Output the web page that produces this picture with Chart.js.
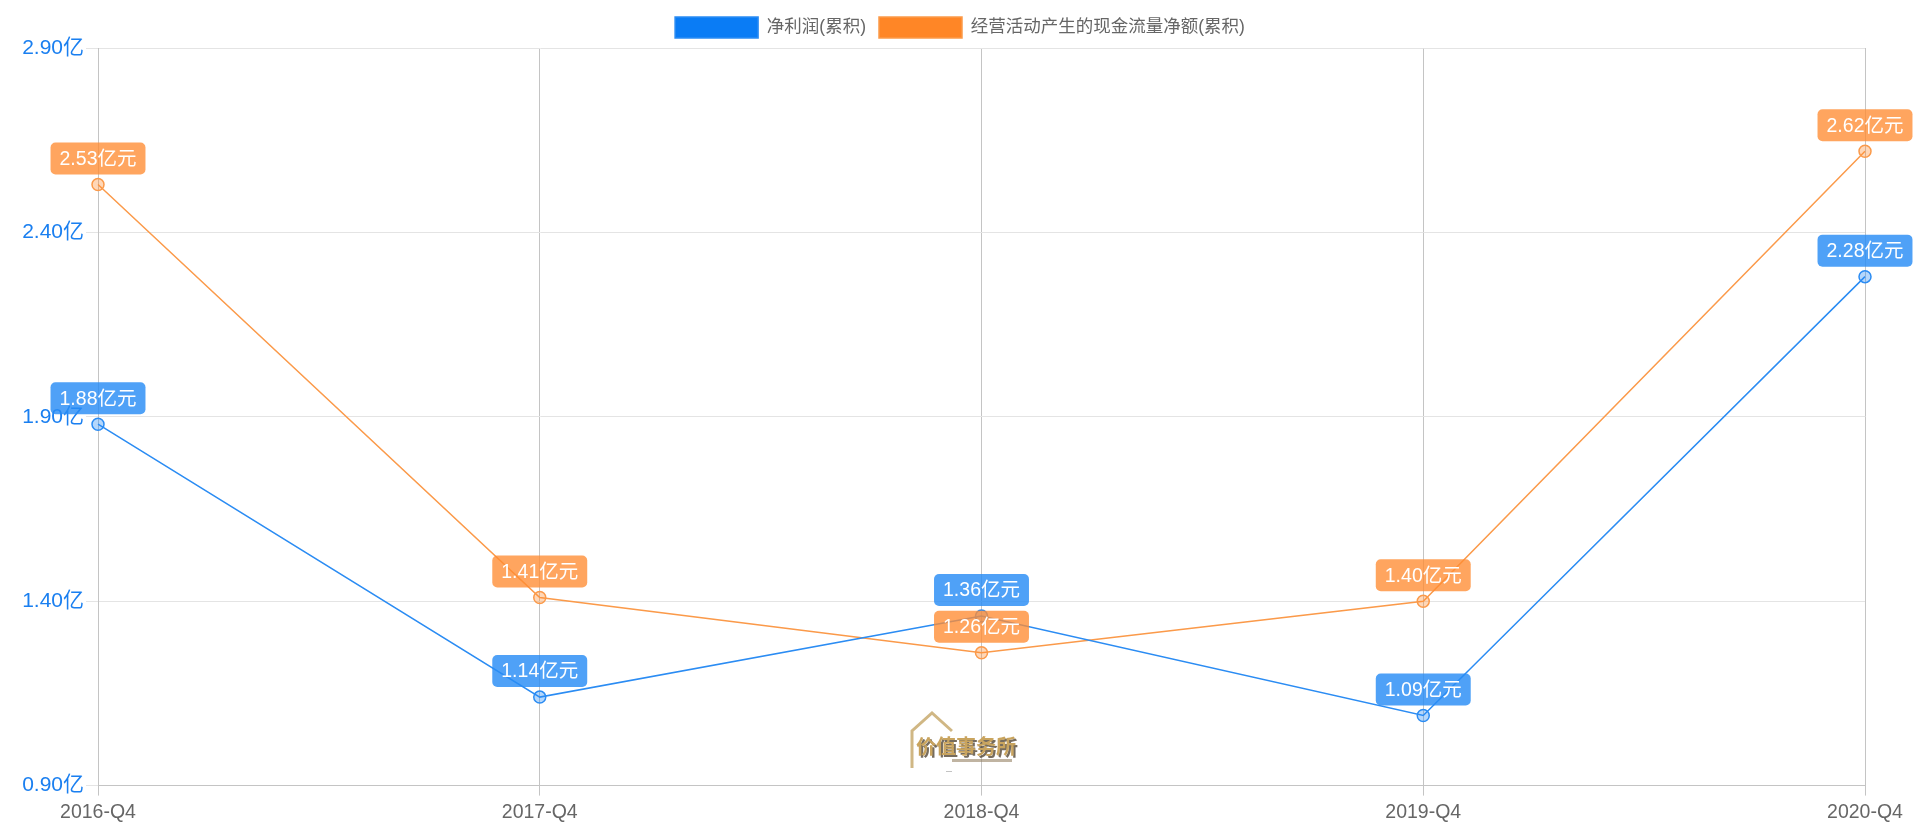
<!DOCTYPE html>
<html>
<head>
<meta charset="utf-8">
<script src="https://cdn.jsdelivr.net/npm/chart.js@4.4.0/dist/chart.umd.min.js"></script>
<style>
  html, body { margin: 0; padding: 0; background: #fff; }
  #wrap { width: 1920px; height: 836px; }
</style>
</head>
<body>
<div id="wrap"><canvas id="chart"></canvas></div>
<script>
const quarters = ['2016-Q4', '2017-Q4', '2018-Q4', '2019-Q4', '2020-Q4'];
const netProfit = [1.88, 1.14, 1.36, 1.09, 2.28];
const operatingCash = [2.53, 1.41, 1.26, 1.40, 2.62];
const yTicks = [0.9, 1.4, 1.9, 2.4, 2.9];

const FONT = '"Liberation Sans", Arial, "Noto Sans CJK SC", sans-serif';

// labels above every point, like chartjs-datalabels
const valueLabels = {
    id: 'valueLabels',
    afterDatasetsDraw(chart) {
        const ctx = chart.ctx;
        const fills = ['rgba(40,140,245,0.82)', 'rgba(255,140,50,0.78)'];
        ctx.save();
        ctx.font = '19.5px ' + FONT;
        ctx.textAlign = 'center';
        ctx.textBaseline = 'middle';
        chart.data.datasets.forEach((ds, i) => {
            const meta = chart.getDatasetMeta(i);
            meta.data.forEach((pt, j) => {
                const text = ds.data[j].toFixed(2) + '亿元';
                const w = ctx.measureText(text).width + 18;
                const h = 32;
                let x = pt.x - w / 2;
                if (x + w > chart.width - 2) x = chart.width - 2 - w;
                const y = pt.y - 10 - h;
                ctx.fillStyle = fills[i];
                ctx.beginPath();
                ctx.roundRect(x, y, w, h, 5);
                ctx.fill();
                ctx.fillStyle = '#fff';
                ctx.fillText(text, x + w / 2, y + h / 2 + 1);
            });
        });
        ctx.restore();
    }
};

// small logo watermark near the bottom middle
const watermark = {
    id: 'watermark',
    afterDraw(chart) {
        const ctx = chart.ctx;
        ctx.save();
        ctx.strokeStyle = 'rgba(200,170,110,0.85)';
        ctx.lineWidth = 3;
        ctx.beginPath();
        ctx.moveTo(912, 768);
        ctx.lineTo(912, 731);
        ctx.lineTo(932, 713);
        ctx.lineTo(952, 731);
        ctx.stroke();
        ctx.font = 'bold 20px "Noto Sans CJK SC", sans-serif';
        ctx.textBaseline = 'middle';
        ctx.fillStyle = 'rgba(60,45,25,0.7)';
        ctx.fillText('价值事务所', 918, 748);
        ctx.fillStyle = '#c9a45e';
        ctx.fillText('价值事务所', 916, 746);
        ctx.fillStyle = 'rgba(150,130,100,0.6)';
        ctx.fillRect(952, 759, 60, 3);
        ctx.fillStyle = 'rgba(180,180,180,0.8)';
        ctx.fillRect(946, 771, 6, 1);
        ctx.restore();
    }
};

new Chart(document.getElementById('chart'), {
    type: 'line',
    data: {
        labels: quarters,
        datasets: [{
            label: '净利润(累积)',
            data: netProfit,
            borderColor: '#2b8cf3',
            backgroundColor: '#0a7cf5',
            pointBackgroundColor: 'rgba(40,140,245,0.35)',
            pointBorderColor: '#2b8cf3',
            pointRadius: 6,
            pointBorderWidth: 1.5,
            borderWidth: 1.5,
            tension: 0
        }, {
            label: '经营活动产生的现金流量净额(累积)',
            data: operatingCash,
            borderColor: '#fb9a4a',
            backgroundColor: '#ff8626',
            pointBackgroundColor: 'rgba(255,140,50,0.35)',
            pointBorderColor: '#fb9a4a',
            pointRadius: 6,
            pointBorderWidth: 1.5,
            borderWidth: 1.5,
            tension: 0
        }]
    },
    options: {
        responsive: true,
        maintainAspectRatio: false,
        animation: false,
        layout: { padding: { left: 0, right: 0, top: 4, bottom: 7 } },
        plugins: {
            legend: {
                labels: {
                    boxWidth: 83,
                    boxHeight: 21,
                    padding: 13,
                    color: '#666',
                    font: { size: 17.5, family: FONT }
                }
            },
            tooltip: { enabled: false }
        },
        scales: {
            x: {
                grid: { color: '#c4c4c4', tickLength: 10 },
                border: { color: '#c4c4c4' },
                ticks: { color: '#666', font: { size: 19.5, family: FONT }, padding: 5 }
            },
            y: {
                min: 0.9,
                max: 2.9,
                afterFit(scale) { scale.width = 98; },
                afterBuildTicks(scale) { scale.ticks = yTicks.map(v => ({ value: v })); },
                grid: { color: '#e4e4e4', tickLength: 12 },
                border: { color: '#c4c4c4' },
                ticks: {
                    color: '#1a7ff0',
                    font: { size: 21, family: FONT },
                    padding: 2,
                    callback: v => v.toFixed(2) + '亿'
                }
            },
            // empty right gutter so the legend stays centred on the page
            gutter: {
                position: 'right',
                afterFit(scale) { scale.width = 55; },
                grid: { display: false, drawTicks: false },
                border: { display: false },
                ticks: { display: false }
            }
        }
    },
    plugins: [valueLabels, watermark]
});
</script>
</body>
</html>
